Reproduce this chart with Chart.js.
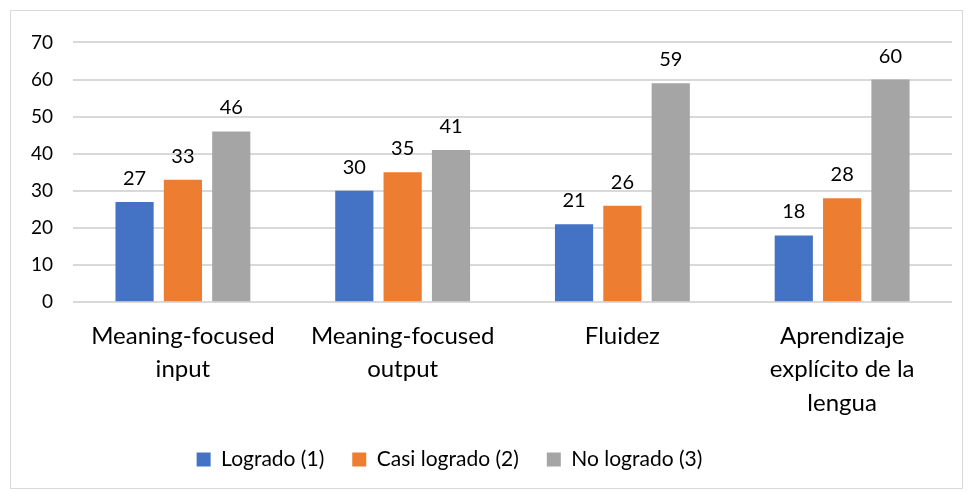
<!DOCTYPE html>
<html>
<head>
<meta charset="utf-8">
<script src="https://cdn.jsdelivr.net/npm/chart.js@4/dist/chart.umd.min.js"></script>
<style>
  html, body { margin: 0; padding: 0; background: #fff; }
  #box {
    position: absolute; left: 10px; top: 10px;
    width: 953px; height: 479px;
    border: 1px solid #d9d9d9; box-sizing: border-box;
  }
</style>
</head>
<body>
<div id="box"><canvas id="chart"></canvas></div>
<script>
const categories = [
  ['Meaning-focused', 'input'],
  ['Meaning-focused', 'output'],
  ['Fluidez'],
  ['Aprendizaje', 'explícito de la', 'lengua']
];
const logrado = [27, 30, 21, 18];
const casiLogrado = [33, 35, 26, 28];
const noLogrado = [46, 41, 59, 60];
const yTicks = [0, 10, 20, 30, 40, 50, 60, 70];

const font = "Lato, 'Open Sans', sans-serif";

// writes each bar's value above it
const valueLabels = {
  id: 'valueLabels',
  afterDatasetsDraw(chart) {
    const ctx = chart.ctx;
    ctx.save();
    ctx.font = '20px ' + font;
    ctx.fillStyle = '#000';
    ctx.textAlign = 'center';
    ctx.textBaseline = 'alphabetic';
    chart.data.datasets.forEach((ds, i) => {
      chart.getDatasetMeta(i).data.forEach((bar, j) => {
        ctx.fillText(ds.data[j], bar.x, bar.y - 17);
      });
    });
    ctx.restore();
  }
};

// legend sits a little left of centre and closer to the axis labels
const legendShift = {
  id: 'legendShift',
  afterLayout(chart) {
    const lg = chart.legend;
    lg.left -= 32;
    lg.right -= 32;
    lg.top -= 8;
    lg.bottom -= 8;
  }
};

new Chart(document.getElementById('chart'), {
  type: 'bar',
  data: {
    labels: categories,
    datasets: [
      { label: 'Logrado (1)', data: logrado, backgroundColor: '#4472c4' },
      { label: 'Casi logrado (2)', data: casiLogrado, backgroundColor: '#ed7d31' },
      { label: 'No logrado (3)', data: noLogrado, backgroundColor: '#a5a5a5' }
    ]
  },
  options: {
    responsive: true,
    maintainAspectRatio: false,
    animation: false,
    categoryPercentage: 0.66,
    barPercentage: 0.79,
    layout: { padding: { left: 0, right: 10, top: 11, bottom: 0 } },
    plugins: {
      legend: {
        position: 'bottom',
        labels: {
          font: { family: font, size: 21 },
          color: '#000',
          boxWidth: 14,
          boxHeight: 14,
          padding: 28
        }
      },
      tooltip: { enabled: false }
    },
    scales: {
      x: {
        grid: { display: false },
        border: { display: false },
        ticks: { font: { family: font, size: 24, lineHeight: 1.4 }, color: '#000', padding: 9 }
      },
      y: {
        min: 0,
        max: 70,
        afterBuildTicks(axis) { axis.ticks = yTicks.map(v => ({ value: v })); },
        grid: { color: '#d9d9d9', lineWidth: 2, drawTicks: false },
        border: { display: false },
        ticks: { font: { family: font, size: 19 }, color: '#000', padding: 20 }
      }
    }
  },
  plugins: [valueLabels, legendShift]
});
</script>
</body>
</html>
